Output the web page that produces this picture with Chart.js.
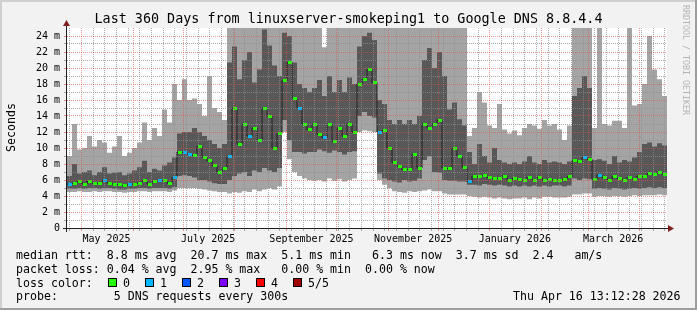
<!DOCTYPE html>
<html>
<head>
<meta charset="utf-8">
<script src="https://cdn.jsdelivr.net/npm/chart.js@4.4.1/dist/chart.umd.min.js"></script>
<style>
  html, body { margin: 0; padding: 0; background: #f2f2f2; }
  canvas { display: block; }
</style>
</head>
<body>
<canvas id="smokeChart" width="697" height="310"></canvas>
<script>
/* =================================================================
   SMOKEPING - Last 360 Days, linuxserver-smokeping1 -> 8.8.4.4
   ================================================================= */

// one column = 3 days, 120 columns = 360 days (values in ms)
const STEP_DAYS = 3;

const pingMax = [
  9.0, 13.0, 9.8, 10.0, 11.5, 10.2, 11.0, 10.7, 9.4, 10.2, 11.5, 9.0, 9.4, 10.0, 10.7, 13.2, 11.0, 12.5, 11.5, 14.8, 13.2, 18.0,
  16.0, 18.6, 16.0, 16.2, 15.5, 14.0, 19.0, 15.0, 14.5, 13.5,
  30, 30, 30, 30, 30, 30, 30, 30, 30, 30, 30, 30, 30, 30, 30, 30, 30,
  30, 30, 22.6, 30, 30, 30, 30, 30, 30,
  30, 30, 30, 30,
  30, 30, 30, 30, 30, 30, 30, 30, 30, 30, 30,
  30, 30, 30, 30, 30, 30, 30,
  11.5, 12.5, 17.0, 15.7, 12.8, 12.5, 15.5, 12.3, 11.8, 12.2, 11.6, 12.5, 13.0, 12.8, 12.4, 13.5, 12.8, 13.0, 12.3, 11.0, 12.8,
  30, 30, 30, 30,
  12.5, 26, 13.0, 12.8, 13.4, 13.4, 12.5, 26, 15.3, 15.5, 18.0, 24.0, 19.8, 18.6, 16.5
];

const pingQ3 = [
  6.5, 8.0, 6.8, 7.0, 7.2, 6.6, 7.0, 7.6, 6.8, 6.9, 7.0, 6.6, 6.8, 7.2, 7.6, 8.4, 7.0, 7.4, 7.2, 7.8, 8.2, 8.8,
  11.8, 12.0, 12.0, 12.5, 12.0, 11.5, 11.0, 10.5, 10.0, 10.5,
  20.7, 22.7, 18.6, 21.0, 22.0, 18.2, 19.8, 24.8, 22.8, 20.3, 19.0, 24.4, 24.0, 20.7, 18.0, 17.5, 17.0,
  17.5, 18.5, 16.5, 19.0, 17.0, 18.5, 17.0, 18.8, 18.0,
  22.7, 24.0, 24.4, 23.5,
  16.0, 15.5, 13.5, 13.0, 13.5, 13.0, 13.5, 13.0, 14.0, 21.0, 22.5,
  20.0, 22.0, 19.0, 14.8, 15.7, 13.6, 12.8,
  9.5, 8.0, 10.5, 9.0, 8.2, 10.0, 8.5, 8.2, 8.0, 8.2, 8.0, 8.3, 9.0, 8.2, 8.0, 8.5, 8.2, 8.3, 8.2, 8.0, 8.3,
  16.5, 17.5, 19.0, 17.5,
  8.5, 8.6, 8.4, 8.0, 9.0, 8.2, 8.5, 8.3, 8.8, 9.5, 10.5, 10.7, 10.2, 10.6, 10.3
];

const pingMedian = [
  5.5, 5.6, 5.8, 5.5, 5.8, 5.6, 5.6, 6.0, 5.6, 5.5, 5.4, 5.3, 5.4, 5.5, 5.6, 5.9, 5.5, 5.8, 6.0, 5.9, 5.6, 6.3,
  9.5, 9.4, 9.2, 9.1, 10.2, 8.8, 8.4, 7.8, 7.0, 7.5,
  9.0, 15.0, 10.5, 13.0, 11.5, 12.5, 11.0, 15.0, 14.0, 10.0, 11.8, 18.4, 20.7, 16.2, 15.0, 13.0, 12.3,
  13.0, 11.7, 11.3, 13.0, 10.8, 12.5, 11.5, 13.0, 12.0,
  18.0, 18.6, 19.8, 18.2,
  12.0, 12.2, 10.0, 8.2, 7.7, 7.3, 7.3, 9.2, 7.5, 13.0, 12.5,
  13.0, 13.5, 7.5, 7.4, 10.0, 9.0, 7.6,
  5.8, 6.5, 6.4, 6.6, 6.3, 6.2, 6.2, 6.5, 6.0, 6.2, 6.1, 6.0, 6.3, 6.0, 6.3, 6.0, 6.1, 6.0, 6.0, 6.1, 6.4,
  8.4, 8.3, 8.8, 8.6,
  6.1, 6.6, 6.3, 6.0, 6.4, 6.2, 6.0, 6.3, 6.1, 6.5, 6.4, 6.8, 6.7, 7.0, 6.7
];

const pingQ1 = [
  4.9, 4.9, 5.0, 4.9, 5.0, 5.0, 4.9, 5.0, 5.0, 4.9, 4.8, 4.8, 4.9, 4.9, 5.0, 5.0, 4.9, 5.0, 5.0, 5.0, 4.9, 5.1,
  6.5, 6.6, 6.5, 6.3, 6.0, 6.0, 5.8, 5.6, 5.5, 5.5,
  6.0, 6.5, 6.8, 7.0, 6.5, 7.2, 7.0, 7.5, 7.2, 7.0, 7.5, 13.5, 11.0, 9.5, 9.5, 9.3, 9.5,
  9.5, 9.8, 9.6, 9.4, 9.7, 9.5, 9.2, 9.5, 9.6,
  14.0, 14.5, 14.0, 13.8,
  6.8, 6.2, 6.0, 5.8, 5.7, 6.0, 5.8, 5.9, 6.2, 8.5, 9.0,
  7.0, 6.9, 6.0, 5.9, 5.9, 5.8, 5.8,
  5.4, 5.4, 5.3, 5.5, 5.4, 5.3, 5.4, 5.3, 5.2, 5.3, 5.2, 5.3, 5.2, 5.3, 5.2, 5.3, 5.2, 5.3, 5.3, 5.2, 5.3,
  6.2, 6.0, 6.2, 6.1,
  4.9, 5.0, 4.9, 4.8, 5.0, 4.9, 4.8, 4.9, 5.0, 4.9, 5.0, 5.1, 5.0, 5.1, 5.0
];

const pingMin = [
  4.5, 4.5, 4.6, 4.5, 4.5, 4.6, 4.5, 4.6, 4.6, 4.5, 4.5, 4.4, 4.5, 4.5, 4.6, 4.6, 4.5, 4.6, 4.6, 4.6, 4.5, 4.7,
  5.0, 5.0, 5.0, 5.0, 4.9, 4.8, 4.7, 4.6, 4.5, 4.5,
  4.3, 4.5, 4.4, 4.6, 4.5, 4.8, 4.6, 4.8, 5.0, 4.8, 5.2, 12.0, 8.6, 7.0, 6.5, 6.2, 6.0,
  5.9, 6.0, 5.8, 6.2, 5.9, 6.1, 5.8, 6.0, 6.2,
  12.0, 12.2, 12.1, 12.0,
  6.0, 5.4, 5.0, 4.6, 4.5, 4.4, 4.6, 4.5, 4.6, 4.7, 4.8,
  4.6, 4.6, 4.3, 4.2, 4.2, 4.2, 4.2,
  4.0, 3.9, 3.8, 3.9, 3.8, 3.7, 3.8, 3.7, 3.6, 3.7, 3.7, 3.8, 3.6, 3.8, 3.7, 3.9, 3.9, 3.8, 3.8, 3.8, 3.9,
  4.2, 4.2, 4.3, 4.3,
  3.9, 4.0, 4.0, 3.9, 4.0, 4.0, 3.9, 4.0, 4.1, 4.0, 4.1, 4.1, 4.1, 4.2, 4.1
];

// lost pings (of 5) per column
const lostPings = [
  1, 0, 0, 0, 0, 0, 0, 1, 0, 0, 0, 0, 1, 0, 0, 0, 0, 0, 1, 0, 0, 1,
  0, 1, 1, 0, 0, 0, 0, 0, 0, 0,
  1, 0, 0, 0, 1, 0, 0, 0, 0, 0, 0, 0, 0, 0, 1, 0, 0,
  0, 0, 1, 0, 0, 0, 0, 0, 0,
  0, 0, 0, 0,
  1, 0, 0, 0, 0, 0, 0, 0, 0, 0, 0,
  0, 0, 0, 0, 0, 0, 0,
  1, 0, 0, 0, 0, 0, 0, 0, 0, 0, 0, 0, 0, 0, 0, 0, 0, 0, 0, 0, 0,
  0, 0, 1, 0,
  0, 1, 0, 0, 0, 0, 0, 0, 0, 0, 0, 0, 0, 0, 0
];

const lossColors = ['#26ff00', '#00b8ff', '#0059ff', '#7e00ff', '#ff0000', '#a10000'];
const lossLabels = ['0', '1', '2', '3', '4', '5/5'];

const xLabelText = ['May 2025', 'July 2025', 'September 2025', 'November 2025', 'January 2026', 'March 2026'];
const xLabelMonth = [[2025, 4], [2025, 6], [2025, 8], [2025, 10], [2026, 0], [2026, 2]];

const yTickValues = [0, 1, 2, 3, 4, 5, 6, 7, 8, 9, 10, 11, 12, 13, 14, 15, 16, 17, 18, 19, 20, 21, 22, 23, 24];

const legendLines = [
  'median rtt:  8.8 ms avg  20.7 ms max  5.1 ms min   6.3 ms now  3.7 ms sd  2.4   am/s',
  'packet loss: 0.04 % avg  2.95 % max   0.00 % min  0.00 % now',
  'loss color:',
  'probe:        5 DNS requests every 300s'
];

const FONT = '"DejaVu Sans Mono", monospace';
const MGRID = 'rgba(222,79,79,0.6)';
const GRID = 'rgba(143,143,143,0.75)';

// time axis: days since the left edge of the plot
const T0 = Date.UTC(2025, 3, 22, 7, 12);
const DAY = 86400000;
const dayOf = (y, m, d) => (Date.UTC(y, m, d) - T0) / DAY;

function buildXTicks() {
    const ticks = [];
    const majors = new Set();
    for (let k = 0; k < 13; k++) {
        const d = dayOf(2025, 4 + k, 1);
        if (d >= 0 && d <= 360) { ticks.push({ value: d, kind: 'major' }); majors.add(d.toFixed(3)); }
    }
    const may1 = dayOf(2025, 4, 1); // a Thursday
    for (let d = may1 - 7 * Math.floor(may1 / 7); d <= 360; d += 7) {
        if (!majors.has(d.toFixed(3))) ticks.push({ value: d, kind: 'minor' });
    }
    xLabelMonth.forEach(([y, m], i) => {
        ticks.push({ value: dayOf(y, m, 1) + 15, kind: 'label', text: xLabelText[i] });
    });
    return ticks.sort((a, b) => a.value - b.value);
}
const xTicks = buildXTicks();

function stepSeries(arr) {
    const pts = arr.map((v, i) => ({ x: i * STEP_DAYS, y: v }));
    pts.push({ x: arr.length * STEP_DAYS, y: arr[arr.length - 1] });
    return pts;
}

function boxImage(color) {
    const c = document.createElement('canvas');
    c.width = 4; c.height = 3;
    const g = c.getContext('2d');
    g.fillStyle = color;
    g.fillRect(0, 0, 4, 3);
    return c;
}

function lossDataset(k) {
    const data = [];
    pingMedian.forEach((v, i) => {
        if (lostPings[i] === k) data.push({ x: i * STEP_DAYS + STEP_DAYS / 2, y: v });
    });
    return {
        label: 'loss ' + lossLabels[k],
        data: data,
        showLine: false,
        pointStyle: boxImage(lossColors[k]),
        pointRadius: 3,
        pointHoverRadius: 3
    };
}

const frame = {
    id: 'frame',
    beforeDraw(chart) {
        const { ctx, chartArea: a } = chart;
        ctx.save();
        ctx.fillStyle = '#f2f2f2';
        ctx.fillRect(0, 0, 697, 310);
        ctx.fillStyle = '#ffffff';
        ctx.fillRect(a.left, a.top, a.right - a.left, a.bottom - a.top);
        // 3d border
        ctx.fillStyle = '#cfcfcf';
        ctx.fillRect(0, 0, 697, 2);
        ctx.fillRect(0, 0, 2, 310);
        ctx.fillStyle = '#9e9e9e';
        ctx.fillRect(0, 308, 697, 2);
        ctx.fillRect(695, 0, 2, 310);
        ctx.restore();
    },
    afterDraw(chart) {
        const { ctx } = chart;
        ctx.save();
        // axes
        ctx.strokeStyle = '#1f1f1f';
        ctx.lineWidth = 1;
        ctx.beginPath();
        ctx.moveTo(63, 228.5); ctx.lineTo(671, 228.5);
        ctx.moveTo(66.5, 232); ctx.lineTo(66.5, 24);
        ctx.stroke();
        ctx.fillStyle = '#801f1f';
        ctx.beginPath();
        ctx.moveTo(668, 225); ctx.lineTo(668, 232); ctx.lineTo(674, 228.5); ctx.closePath();
        ctx.fill();
        ctx.beginPath();
        ctx.moveTo(63, 26); ctx.lineTo(70, 26); ctx.lineTo(66.5, 20); ctx.closePath();
        ctx.fill();

        ctx.fillStyle = '#000';
        ctx.textBaseline = 'alphabetic';
        // title
        ctx.font = '13.4px ' + FONT;
        ctx.textAlign = 'center';
        ctx.fillText('Last 360 Days from linuxserver-smokeping1 to Google DNS 8.8.4.4', 348.5, 23);

        // vertical label
        ctx.font = '11.6px ' + FONT;
        ctx.save();
        ctx.translate(15, 127.5);
        ctx.rotate(-Math.PI / 2);
        ctx.fillText('Seconds', 0, 0);
        ctx.restore();

        // legend
        ctx.textAlign = 'left';
        const base = [258.5, 272.5, 286.5, 300];
        legendLines.forEach((t, i) => ctx.fillText(t, 16, base[i]));
        lossColors.forEach((c, k) => {
            const x = 108 + 37 * k;
            ctx.fillStyle = c;
            ctx.fillRect(x, 278, 9, 9);
            ctx.strokeStyle = '#000';
            ctx.strokeRect(x + 0.5, 278.5, 8, 8);
            ctx.fillStyle = '#000';
            ctx.fillText(lossLabels[k], x + 15, 286.5);
        });
        ctx.fillText('Thu Apr 16 13:12:28 2026', 513, 300);

        // watermark
        ctx.fillStyle = '#b4b4b4';
        ctx.font = '8.3px ' + FONT;
        ctx.translate(683, 5);
        ctx.rotate(Math.PI / 2);
        ctx.fillText('RRDTOOL / TOBI OETIKER', 0, 0);
        ctx.restore();
    }
};

Chart.defaults.font.family = FONT;

const ctx = document.getElementById('smokeChart').getContext('2d');
new Chart(ctx, {
    type: 'line',
    data: {
        datasets: [
            lossDataset(0),
            lossDataset(1),
            {
                label: 'median',
                data: stepSeries(pingMedian),
                stepped: true,
                borderColor: '#202020',
                borderWidth: 1,
                pointRadius: 0,
                fill: false
            },
            {
                label: 'ping 2-4',
                data: stepSeries(pingQ3),
                stepped: true,
                borderColor: 'transparent',
                borderWidth: 0,
                pointRadius: 0,
                backgroundColor: '#585858',
                fill: '+1'
            },
            {
                label: 'ping 2',
                data: stepSeries(pingQ1),
                stepped: true,
                borderColor: 'transparent',
                borderWidth: 0,
                pointRadius: 0,
                fill: false
            },
            {
                label: 'ping 1-5',
                data: stepSeries(pingMax),
                stepped: true,
                borderColor: 'transparent',
                borderWidth: 0,
                pointRadius: 0,
                backgroundColor: '#a4a4a4',
                fill: '+1'
            },
            {
                label: 'ping 1',
                data: stepSeries(pingMin),
                stepped: true,
                borderColor: 'transparent',
                borderWidth: 0,
                pointRadius: 0,
                fill: false
            }
        ]
    },
    options: {
        responsive: false,
        animation: false,
        devicePixelRatio: 1,
        layout: { padding: { left: 0, right: 30, top: 28, bottom: 0 } },
        plugins: {
            legend: { display: false },
            tooltip: { enabled: false },
            title: { display: false }
        },
        scales: {
            x: {
                type: 'linear',
                min: 0,
                max: 360,
                afterBuildTicks: (s) => { s.ticks = xTicks.map(t => Object.assign({}, t)); },
                afterFit: (s) => { s.height = 82; },
                ticks: {
                    autoSkip: false,
                    maxRotation: 0,
                    minRotation: 0,
                    padding: 2,
                    color: '#000',
                    font: { size: 10 },
                    callback: (v, i, ticks) => ticks[i].text || ''
                },
                grid: {
                    z: 1,
                    lineWidth: 1,
                    tickLength: 3,
                    color: (c) => c.tick && c.tick.kind === 'major' ? MGRID : (c.tick && c.tick.kind === 'minor' ? GRID : 'rgba(0,0,0,0)'),
                    tickColor: (c) => c.tick && c.tick.kind === 'major' ? MGRID : (c.tick && c.tick.kind === 'minor' ? GRID : 'rgba(0,0,0,0)')
                },
                border: { display: false, dash: [1, 1] }
            },
            y: {
                type: 'linear',
                min: 0,
                max: 25,
                afterBuildTicks: (s) => { s.ticks = yTickValues.map(v => ({ value: v })); },
                afterFit: (s) => { s.width = 67; },
                ticks: {
                    autoSkip: false,
                    padding: 4,
                    color: '#000',
                    font: { size: 10 },
                    callback: (v) => v % 2 ? '' : (v === 0 ? '0' : v + ' m')
                },
                grid: {
                    z: 1,
                    lineWidth: 1,
                    tickLength: 3,
                    color: (c) => c.tick && c.tick.value % 2 ? GRID : MGRID,
                    tickColor: (c) => c.tick && c.tick.value % 2 ? GRID : MGRID
                },
                border: { display: false, dash: [1, 1] }
            }
        }
    },
    plugins: [frame]
});
</script>
</body>
</html>
